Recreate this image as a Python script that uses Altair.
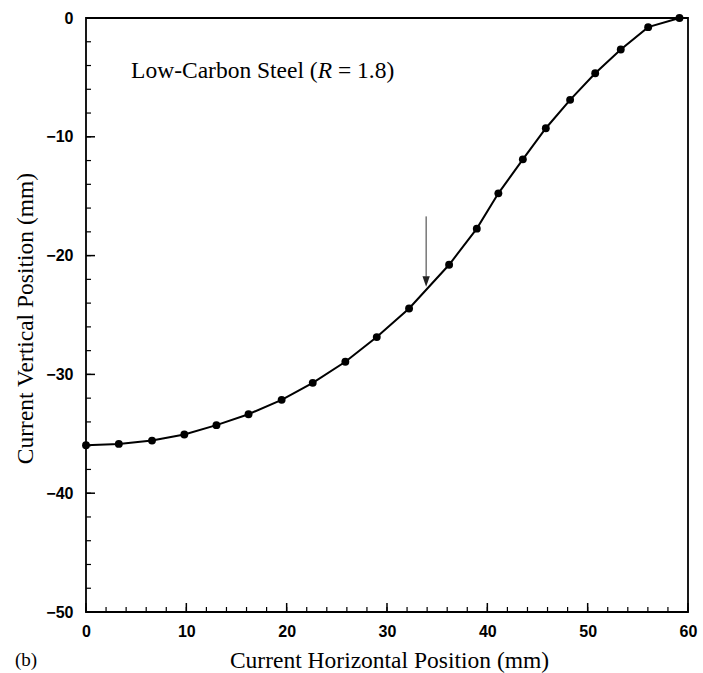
import altair as alt
import pandas as pd

# Data points
x_pos = [0, 3.27, 6.58, 9.8, 13.0, 16.2, 19.5, 22.6, 25.85, 28.98, 32.2,
         36.19, 38.95, 41.1, 43.54, 45.83, 48.25, 50.75, 53.3, 56.03, 59.15]
y_pos = [-35.96, -35.85, -35.57, -35.06, -34.27, -33.35, -32.14, -30.71, -28.94,
         -26.86, -24.45, -20.77, -17.73, -14.76, -11.9, -9.28, -6.89, -4.65,
         -2.65, -0.77, 0.0]

x_major = [0, 10, 20, 30, 40, 50, 60]
y_major = [0, -10, -20, -30, -40, -50]
x_minor = list(range(0, 61, 2))
y_minor = list(range(-50, 1, 2))

arrow_x = [33.9]
arrow_top = [-16.7]
arrow_bot = [-21.77]
arrow_tip = [-22.19]

ann_x = [4.49]
ann_y = [-5.05]

W, H = 602, 594
xs = alt.Scale(domain=[0, 60], nice=False, zero=False)
ys = alt.Scale(domain=[-50, 0], nice=False, zero=False)

df = pd.DataFrame({"x": x_pos, "y": y_pos})

x_axis = alt.Axis(values=x_major, title="Current Horizontal Position (mm)", grid=False,
                  ticks=False, tickSize=0, domain=False, labelFont="Liberation Sans",
                  labelFontWeight="bold", labelFontSize=16, labelColor="black",
                  labelPadding=11, titleFont="Liberation Serif", titleFontWeight="normal",
                  titleFontSize=23.5, titleColor="black", titleBaseline="alphabetic",
                  titleY=55, titleX=303, labelFlush=False)
y_axis = alt.Axis(values=y_major, title="Current Vertical Position (mm)", grid=False,
                  ticks=False, tickSize=0, domain=False, labelFont="Liberation Sans",
                  labelFontWeight="bold", labelFontSize=16, labelColor="black",
                  labelPadding=13, titleFont="Liberation Serif", titleFontWeight="normal",
                  titleFontSize=23.5, titleColor="black", titleBaseline="alphabetic",
                  titleX=-54, titleY=300, titleAngle=-90, labelFlush=False)


def X(field="x"):
    return alt.X(f"{field}:Q", scale=xs, axis=x_axis)


def Y(field="y"):
    return alt.Y(f"{field}:Q", scale=ys, axis=y_axis)


line = alt.Chart(df).mark_line(color="black", strokeWidth=2).encode(x=X(), y=Y())
pts = alt.Chart(df).mark_point(filled=True, color="black", size=62, opacity=1).encode(x=X(), y=Y())

xmaj = alt.Chart(pd.DataFrame({"x": x_major})).mark_rule(color="black", strokeWidth=1.5).encode(
    x=X(), y=alt.value(H), y2=alt.value(H - 9))
xmin = alt.Chart(pd.DataFrame({"x": x_minor})).mark_rule(color="black", strokeWidth=1.2).encode(
    x=X(), y=alt.value(H), y2=alt.value(H - 5))
ymaj = alt.Chart(pd.DataFrame({"y": y_major})).mark_rule(color="black", strokeWidth=1.5).encode(
    y=Y(), x=alt.value(0), x2=alt.value(9))
ymin = alt.Chart(pd.DataFrame({"y": y_minor})).mark_rule(color="black", strokeWidth=1.2).encode(
    y=Y(), x=alt.value(0), x2=alt.value(5))

adf = pd.DataFrame({"x": arrow_x, "y": arrow_top, "y2": arrow_bot})
hdf = pd.DataFrame({"x": arrow_x, "y": arrow_tip})
arrow_line = alt.Chart(adf).mark_rule(color="#333333", strokeWidth=1).encode(
    x=X(), y=Y(), y2="y2:Q")
arrow_head = alt.Chart(hdf).mark_point(
    shape="M -0.7 -1 L 0.7 -1 L 0 1 Z", filled=True, color="#222222", size=110, opacity=1
).encode(x=X(), y=Y())

tdf = pd.DataFrame({"x": ann_x, "y": ann_y})
fs = 23.5
t1 = alt.Chart(tdf).mark_text(align="left", baseline="alphabetic", font="Liberation Serif",
                              fontSize=fs, color="black", text="Low-Carbon Steel (").encode(x=X(), y=Y())
t2 = alt.Chart(tdf).mark_text(align="left", baseline="alphabetic", font="Liberation Serif",
                              fontSize=fs, fontStyle="italic", color="black", text="R",
                              dx=7.943 * fs).encode(x=X(), y=Y())
t3 = alt.Chart(tdf).mark_text(align="left", baseline="alphabetic", font="Liberation Serif",
                              fontSize=fs, color="black", text="= 1.8)",
                              dx=(7.943 + 0.611 + 0.25) * fs).encode(x=X(), y=Y())

blabel = alt.Chart(tdf).mark_text(align="left", baseline="alphabetic", font="Liberation Serif",
                                  fontSize=19, color="black", text="(b)").encode(
    x=alt.value(-71), y=alt.value(648))

chart = alt.layer(line, pts, xmaj, xmin, ymaj, ymin, arrow_line, arrow_head, t1, t2, t3, blabel).properties(
    width=W, height=H,
    autosize=alt.AutoSizeParams(type="none"),
    padding={"left": 86, "top": 18, "right": 15, "bottom": 61},
    background="white",
).configure_view(stroke="black", strokeWidth=1.8)

chart.save("out.html", embed_options={"renderer": "svg", "actions": False})
